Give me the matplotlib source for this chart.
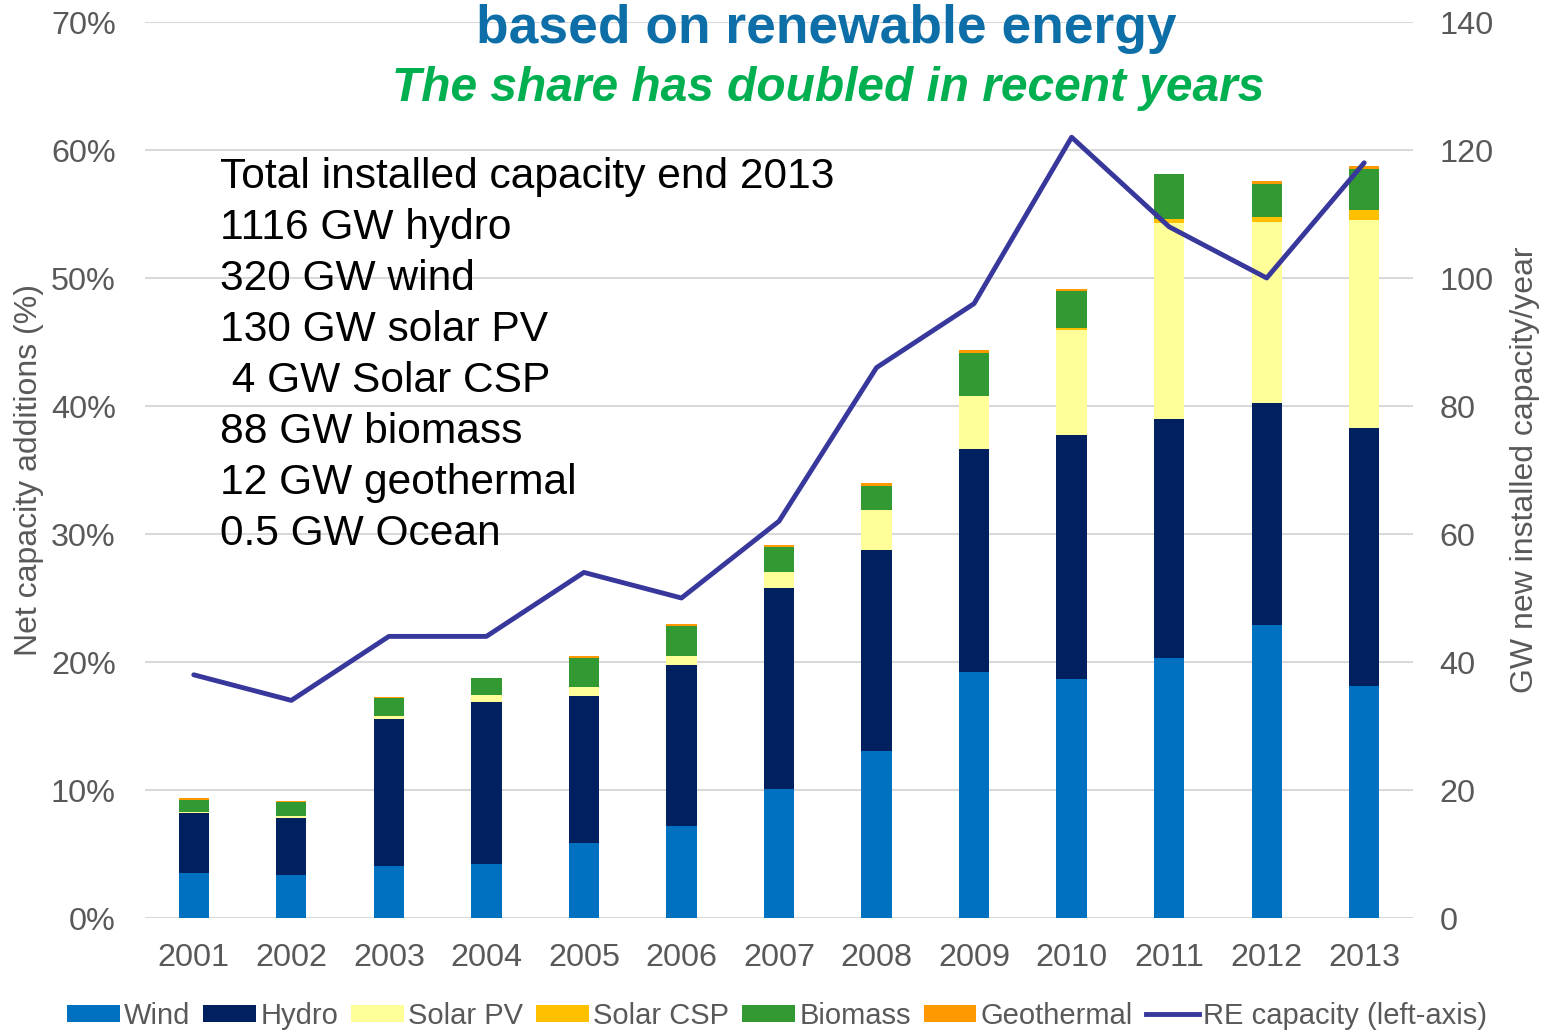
import numpy as np
import matplotlib
matplotlib.use("Agg")
import matplotlib.pyplot as plt
from matplotlib.patches import Patch
from matplotlib.lines import Line2D

plt.rcParams['font.family'] = ['Liberation Sans', 'DejaVu Sans']

# data (GW per year, stacked)
years = ['2001', '2002', '2003', '2004', '2005', '2006', '2007',
         '2008', '2009', '2010', '2011', '2012', '2013']
wind = [7.0, 6.7, 8.2, 8.4, 11.7, 14.4, 20.1, 26.1, 38.4, 37.4, 40.6, 45.8, 36.2]
hydro = [9.4, 8.9, 22.9, 25.3, 23.0, 25.1, 31.4, 31.4, 34.9, 38.1, 37.4, 34.6, 40.4]
solar_pv = [0.2, 0.4, 0.5, 1.1, 1.4, 1.5, 2.5, 6.2, 8.2, 16.4, 30.6, 28.3, 32.5]
solar_csp = [0.0, 0.0, 0.0, 0.0, 0.0, 0.0, 0.1, 0.1, 0.1, 0.3, 0.6, 0.9, 1.5]
biomass = [1.9, 2.1, 2.7, 2.7, 4.6, 4.6, 3.9, 3.7, 6.7, 5.8, 7.0, 5.1, 6.5]
geothermal = [0.3, 0.2, 0.3, 0.0, 0.3, 0.3, 0.3, 0.5, 0.4, 0.3, 0.0, 0.4, 0.4]
# share of RE in net capacity additions (%)
re_share = [19, 17, 22, 22, 27, 25, 31, 43, 48, 61, 54, 50, 59]

series = [
    ('Wind', wind, '#0070C0'),
    ('Hydro', hydro, '#002060'),
    ('Solar PV', solar_pv, '#FFFF99'),
    ('Solar CSP', solar_csp, '#FFC000'),
    ('Biomass', biomass, '#339933'),
    ('Geothermal', geothermal, '#FF9900'),
]
line_color = '#38389C'
gray = '#595959'

info_lines = ['Total installed capacity end 2013', '1116 GW hydro', '320 GW wind',
              '130 GW solar PV', ' 4 GW Solar CSP', '88 GW biomass',
              '12 GW geothermal', '0.5 GW Ocean']

fig = plt.figure(figsize=(15.48, 10.31), dpi=100)
ax_gw = fig.add_axes([145 / 1548, 1 - 918 / 1031, (1413 - 145) / 1548, (918 - 22) / 1031])
ax_pct = ax_gw.twinx()

x = np.arange(len(years))
bottom = np.zeros(len(years))
for name, vals, col in series:
    vals = np.array(vals)
    ax_gw.bar(x, vals, 0.31, bottom=bottom, color=col, zorder=2)
    bottom += vals

ax_pct.plot(x, re_share, color=line_color, lw=3.5, zorder=3, solid_capstyle='round')

ax_gw.set_xlim(-0.5, len(years) - 0.5)
ax_gw.set_ylim(0, 140)
ax_gw.set_yticks(np.arange(0, 141, 20))
ax_pct.set_ylim(0, 70)
ax_pct.set_yticks(np.arange(0, 71, 10))
ax_pct.set_yticklabels([f'{v}%' for v in range(0, 71, 10)])

ax_gw.yaxis.tick_right()
ax_gw.yaxis.set_label_position('right')
ax_pct.yaxis.tick_left()
ax_pct.yaxis.set_label_position('left')

ax_gw.grid(axis='y', color='#D9D9D9', lw=1.5, zorder=0)
ax_gw.set_axisbelow(True)
for a in (ax_gw, ax_pct):
    for s in a.spines.values():
        s.set_visible(False)
    a.tick_params(length=0, labelsize=23.3, labelcolor=gray)

ax_gw.set_xticks(x)
ax_gw.set_xticklabels(years)
ax_gw.tick_params(axis='x', pad=18)
ax_gw.tick_params(axis='y', pad=19)
ax_pct.tick_params(axis='y', pad=21)

ax_pct.set_ylabel('Net capacity additions (%)', fontsize=23, color=gray, labelpad=5)
ax_gw.set_ylabel('GW new installed capacity/year', fontsize=23, color=gray, labelpad=12)

fig.text(826 / 1548, 1 - 43 / 1031, 'based on renewable energy', ha='center', va='baseline',
         fontsize=38.4, fontweight='bold', color='#0E6FA8')
fig.text(828 / 1548, 1 - 101 / 1031, 'The share has doubled in recent years', ha='center',
         va='baseline', fontsize=34.5, fontweight='bold', style='italic', color='#00B050')

fig.text(220 / 1548, 1 - 157 / 1031, '\n'.join(info_lines), ha='left', va='top',
         fontsize=30.6, color='black', linespacing=1.355)

handles = [Patch(facecolor=c, label=n) for n, _, c in series]
handles.append(Line2D([0], [0], color=line_color, lw=3.5, label='RE capacity (left-axis)'))
fig.legend(handles=handles, loc='center', bbox_to_anchor=(777 / 1548, 1 - 1016 / 1031), ncol=7,
           frameon=False, fontsize=21, labelcolor=gray, handlelength=1.8, handleheight=0.55,
           handletextpad=0.15, columnspacing=0.45, borderpad=0.1)

fig.savefig('out.png', dpi=100)
